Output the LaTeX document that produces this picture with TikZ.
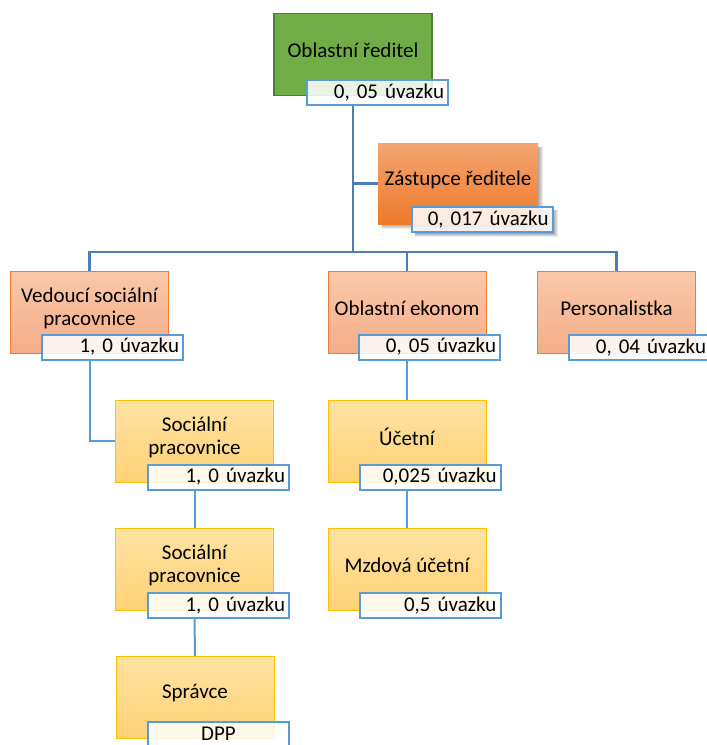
\documentclass[tikz,border=0pt]{standalone}
\usepackage{fontspec}
\setmainfont{Carlito}
\frenchspacing
\usetikzlibrary{backgrounds}
\definecolor{conn}{HTML}{4A7EBB}
\definecolor{connl}{HTML}{5B9BD5}
\definecolor{lblb}{HTML}{5B9BD5}
\definecolor{grn}{HTML}{70AD47}
\definecolor{grnd}{HTML}{507E32}
\definecolor{orgT}{HTML}{F4A571}
\definecolor{orgB}{HTML}{EE7A2B}
\definecolor{salT}{HTML}{F9C8AA}
\definecolor{salB}{HTML}{F5AD88}
\definecolor{salD}{HTML}{ED7D31}
\definecolor{yelT}{HTML}{FFE3A3}
\definecolor{yelB}{HTML}{FFD175}
\definecolor{yelD}{HTML}{FFC000}
\begin{document}
\begin{tikzpicture}[x=1pt,y=-1pt,
  font=\fontsize{21}{23}\selectfont,
  box/.style={rectangle, minimum width=158pt, minimum height=82pt, inner sep=0pt},
  greenbox/.style={box, fill=grn, draw=grnd, line width=1.5pt},
  orangebox/.style={box, minimum width=160pt, minimum height=81pt, top color=orgT, bottom color=orgB},
  salmonbox/.style={box, top color=salT, bottom color=salB, draw=salD, line width=1pt},
  yellowbox/.style={box, top color=yelT, bottom color=yelB, draw=yelD, line width=1pt},
  lbl/.style={rectangle, draw=lblb, line width=2pt, fill=white, fill opacity=0.85, text opacity=1,
     minimum width=141pt, minimum height=25pt, inner xsep=4pt, inner ysep=0pt,
     text width=133pt, align=right},
  lblc/.style={lbl, align=center},
  txt/.style={align=center, inner sep=0pt},
  shade1/.style={fill=black, opacity=0.08},
  up/.style={draw=conn, line width=2.2pt},
  low/.style={draw=connl, line width=2pt}
]
\useasboundingbox (0,0) rectangle (707,745);

% boxes
\node[greenbox] (orb) at (353,54.5) {};
\node[txt] (ort) at ([yshift=4pt]orb.center) {Oblastní ředitel};
\node[lbl] (orl) at (377.5,92.5) {0, 05 úvazku};

\node[orangebox] (zas) at (458,183.5) {};
\node[txt] (zast) at ([yshift=4pt]zas.center) {Zástupce ředitele};
\node[lbl] (zasl) at (482,219.5) {0, 017 úvazku};

\node[salmonbox] (ved) at (89.5,312) {};
\node[txt] (vedt) at ([yshift=4pt]ved.center) {Vedoucí sociální\\pracovnice};
\node[lbl] (vedl) at (112.5,347) {1, 0 úvazku};

\node[salmonbox] (eko) at (407,312) {};
\node[txt] (ekot) at ([yshift=4pt]eko.center) {Oblastní ekonom};
\node[lbl] (ekol) at (429.5,347) {0, 05 úvazku};

\node[salmonbox] (per) at (616.5,312) {};
\node[txt] (pert) at ([yshift=4pt]per.center) {Personalistka};
\node[lbl] (perl) at (639.5,347.5) {0, 04 úvazku};

\node[yellowbox] (soc1) at (194.5,441) {};
\node[txt] (soc1t) at ([yshift=4pt]soc1.center) {Sociální\\pracovnice};
\node[lbl] (soc1l) at (218.5,477) {1, 0 úvazku};

\node[yellowbox] (soc2) at (194.5,569.5) {};
\node[txt] (soc2t) at ([yshift=4pt]soc2.center) {Sociální\\pracovnice};
\node[lbl] (soc2l) at (218.5,605.5) {1, 0 úvazku};

\node[yellowbox] (spr) at (195,697.5) {};
\node[txt] (sprt) at ([yshift=4pt]spr.center) {Správce};
\node[lblc] (sprl) at (218.5,734) {DPP};

\node[yellowbox] (uce) at (407,441) {};
\node[txt] (ucet) at ([yshift=4pt]uce.center) {Účetní};
\node[lbl] (ucel) at (430,477) {0,025 úvazku};

\node[yellowbox] (mzd) at (407,569.5) {};
\node[txt] (mzdt) at ([yshift=4pt]mzd.center) {Mzdová účetní};
\node[lbl] (mzdl) at (430,605.5) {0,5 úvazku};

% connectors and soft shadows
\begin{scope}[on background layer]
\foreach \s in {1,2,3,4,5}{
  \fill[shade1] ([shift={(4,4)}]zas.north west) rectangle ([shift={(\s,\s)}]zas.south east);
  \fill[shade1] ([shift={(4,4)}]zasl.north west) rectangle ([shift={(\s*0.8,\s*0.8)}]zasl.south east);
}
\coordinate (bus) at (353,252);
\draw[up] (orb.south |- orl.south) -- (bus);
\draw[up] (orb.south |- zas.west) -- (zas.west);
\draw[up] (ved.north) |- (bus) -| (per.north);
\draw[up] (bus -| eko.north) -- (eko.north);
\draw[low] (ved.south |- vedl.south) |- (soc1.west);
\draw[low] (soc1.south |- soc1l.south) -- (soc2.north);
\draw[low] (soc2.south |- soc2l.south) -- (spr.north);
\draw[low] (eko.south |- ekol.south) -- (uce.north);
\draw[low] (uce.south |- ucel.south) -- (mzd.north);
\end{scope}
\end{tikzpicture}
\end{document}
